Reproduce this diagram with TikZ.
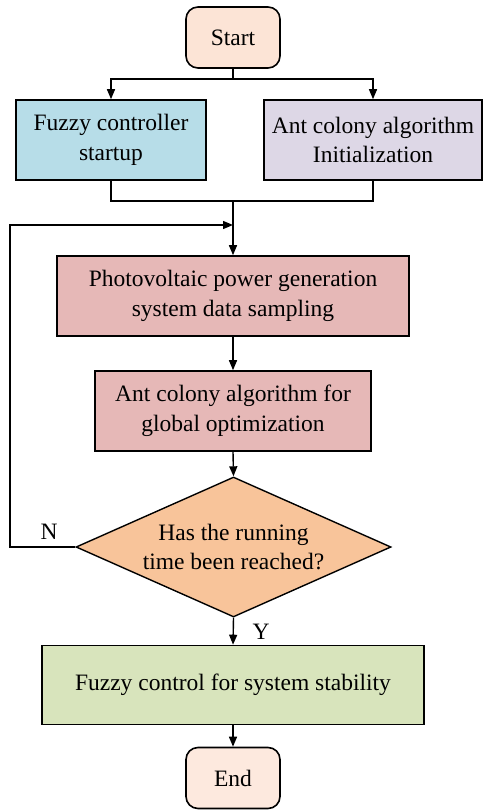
\documentclass[tikz,border=0pt]{standalone}
\usepackage{fontspec}
\setmainfont{Liberation Serif}
\usetikzlibrary{arrows.meta,shapes.geometric}
\definecolor{cstart}{HTML}{FCE4D6}
\definecolor{cblue}{HTML}{B7DDE8}
\definecolor{cpurple}{HTML}{DDD7E6}
\definecolor{cpink}{HTML}{E6B8B7}
\definecolor{corange}{HTML}{F8C49A}
\definecolor{cgreen}{HTML}{D8E4BC}
\begin{document}
\begin{tikzpicture}[x=1pt,y=-1pt,
  font=\fontsize{23.5}{29.5}\selectfont,
  every node/.style={align=center, inner sep=0pt},
  term/.style={draw, line width=1.6pt, rounded corners=12pt, fill=cstart, minimum width=94pt, minimum height=61pt},
  proc/.style={draw, line width=1.6pt, minimum height=80pt},
  dec/.style={draw, line width=1.4pt, diamond, aspect=2.25, fill=corange, minimum width=315pt, minimum height=140pt},
  conn/.style={line width=1.4pt},
  arr/.style={conn, -{Triangle[length=10pt,width=8pt]}},
  lbl/.style={font=\fontsize{23.5}{26}\selectfont}]
\useasboundingbox (0,0) rectangle (483,810);
\node[term] (start) at (233,37.5) {Start};
\node[proc, fill=cblue, minimum width=190pt] (fc) at (111,140) {Fuzzy controller\\startup};
\node[proc, fill=cpurple, minimum width=218pt] (aci) at (373,140) {Ant colony algorithm\\Initialization};
\node[proc, fill=cpink, minimum width=352pt] (pv) at (233,296) {Photovoltaic power generation\\system data sampling};
\node[proc, fill=cpink, minimum width=276pt] (aco) at (233,411) {Ant colony algorithm for\\global optimization};
\node[dec] (dec) at (233.5,547) {Has the running\\time been reached?};
\node[proc, fill=cgreen, minimum width=382pt, minimum height=79pt] (fz) at (233,685) {Fuzzy control for system stability};
\node[term, fill=cstart!80!white] (end) at (233,778) {End};
\coordinate (split) at (233,79);
\coordinate (merge) at (233,201);
\coordinate (loopin) at (233,225);
\coordinate (corner) at (10,547);
\draw[conn] (start.south) -- (split);
\draw[arr] (split) -| (fc.north);
\draw[arr] (split) -| (aci.north);
\draw[conn] (fc.south) |- (merge);
\draw[conn] (aci.south) |- (merge);
\draw[arr] (merge) -- (pv.north);
\draw[arr] (pv.south) -- (aco.north);
\draw[arr] (aco.south) -- (dec.north);
\draw[arr] (dec.west) -- (corner) |- (loopin);
\draw[arr] (dec.south) -- (fz.north);
\draw[arr] (fz.south) -- (end.north);
\node[lbl] (n) at (49,532) {N};
\node[lbl] (y) at (261,632) {Y};
\end{tikzpicture}
\end{document}
